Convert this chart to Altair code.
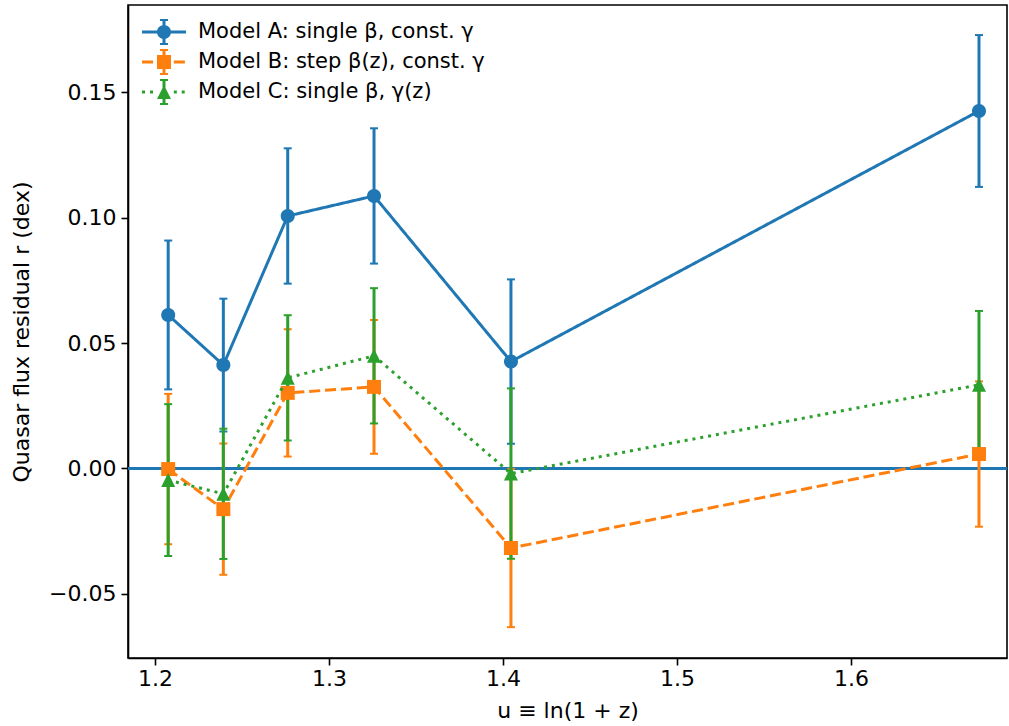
import altair as alt
import pandas as pd

# ---- data ----
u_vals = [1.2076, 1.2393, 1.2763, 1.3259, 1.4046, 1.6736]

series_names = ["Model A: single β, const. γ",
                "Model B: step β(z), const. γ",
                "Model C: single β, γ(z)"]

a_vals = [0.0612, 0.0412, 0.1007, 0.1087, 0.0426, 0.1426]
a_errs = [0.0297, 0.0265, 0.0270, 0.0270, 0.0328, 0.0303]

b_vals = [-0.0003, -0.0163, 0.0301, 0.0325, -0.0318, 0.0057]
b_errs = [0.0300, 0.0262, 0.0254, 0.0267, 0.0316, 0.0290]

c_vals = [-0.0047, -0.0102, 0.0361, 0.0449, -0.0021, 0.0333]
c_errs = [0.0303, 0.0260, 0.0250, 0.0270, 0.0340, 0.0295]

x_ticks = [1.2, 1.3, 1.4, 1.5, 1.6]
y_ticks = [-0.05, 0.0, 0.05, 0.10, 0.15]

colors = ["#1f77b4", "#ff7f0e", "#2ca02c"]

rows = []
for name, vals, errs in zip(series_names, [a_vals, b_vals, c_vals], [a_errs, b_errs, c_errs]):
    for u, v, e in zip(u_vals, vals, errs):
        rows.append({"series": name, "u": u, "r": v, "lo": v - e, "hi": v + e})
df = pd.DataFrame(rows)

# ---- marker / legend symbol paths ----
CIRCLE = "M-1,0A1,1,0,1,1,1,0A1,1,0,1,1,-1,0Z"
SQUARE = "M-1,-1H1V1H-1Z"
TRIANGLE = "M0,-1L1,1L-1,1Z"
marker_paths = [CIRCLE, SQUARE, TRIANGLE]

U = 14.0  # legend symbol unit in px (sqrt(size)/2)
LEGEND_SYMBOL_SIZE = (2 * U) ** 2


def rect(x0, x1, y0, y1):
    return "M{:.4f},{:.4f}H{:.4f}V{:.4f}H{:.4f}Z".format(x0 / U, y0 / U, x1 / U, y1 / U, x0 / U)


def legend_path(kind, line_segments):
    p = ""
    for (s0, s1) in line_segments:
        p += rect(s0, s1, -1.5, 1.5)
    p += rect(-1.5, 1.5, -12, 12)
    p += rect(-4, 4, -13, -11)
    p += rect(-4, 4, 11, 13)
    r = 7.0 / U
    if kind == "circle":
        p += "M{0:.4f},0A{1:.4f},{1:.4f},0,1,1,{1:.4f},0A{1:.4f},{1:.4f},0,1,1,{0:.4f},0Z".format(-r, r)
    elif kind == "square":
        p += rect(-7, 7, -7, 7)
    else:
        p += "M0,{:.4f}L{:.4f},{:.4f}L{:.4f},{:.4f}Z".format(-r, r, r, -r, r)
    return p


legend_paths = [
    legend_path("circle", [(-22, 22)]),
    legend_path("square", [(-22, -10.9), (9.8, 20.9)]),
    legend_path("triangle", [(-22, -19), (-14, -11), (9.8, 12.8), (17.7, 20.7)]),
]

dashes = [[1, 0], [11.1, 4.8], [3, 4.95]]

x_enc = alt.X("u:Q",
              scale=alt.Scale(domain=[1.1845, 1.6897], nice=False, zero=False),
              axis=alt.Axis(values=x_ticks, format=".1f", title="u ≡ ln(1 + z)"))
y_enc = alt.Y("r:Q",
              scale=alt.Scale(domain=[-0.0757, 0.1849], nice=False, zero=False),
              axis=alt.Axis(values=y_ticks, format=".2f", title="Quasar flux residual r (dex)"))

base = alt.Chart(df)

zero_line = base.mark_rule(color="#1f77b4", strokeWidth=2).encode(y=alt.datum(0))

bar_layers = []
for name, col in zip(series_names, colors):
    sub = base.transform_filter(alt.datum.series == name)
    bar_layers.append(sub.mark_rule(color=col, strokeWidth=3).encode(x=x_enc, y=y_enc, y2="hi:Q").transform_calculate(r="datum.lo"))
    bar_layers.append(sub.mark_tick(color=col, orient="horizontal", size=8, thickness=2, opacity=1).encode(x=x_enc, y=alt.Y("lo:Q")))
    bar_layers.append(sub.mark_tick(color=col, orient="horizontal", size=8, thickness=2, opacity=1).encode(x=x_enc, y=alt.Y("hi:Q")))

data_layers = []
for name, col, dash, mp in zip(series_names, colors, dashes, marker_paths):
    sub = base.transform_filter(alt.datum.series == name)
    data_layers.append(sub.mark_line(color=col, strokeWidth=3, strokeDash=dash).encode(x=x_enc, y=y_enc))
    data_layers.append(sub.mark_point(color=col, filled=True, opacity=1, shape=mp, size=196, strokeWidth=0).encode(x=x_enc, y=y_enc))

legend_layer = base.transform_filter("false").mark_point(filled=True, opacity=1, size=LEGEND_SYMBOL_SIZE, strokeWidth=0).encode(
    x=x_enc, y=y_enc,
    color=alt.Color("series:N", scale=alt.Scale(domain=series_names, range=colors),
                    legend=alt.Legend(title=None)),
    shape=alt.Shape("series:N", scale=alt.Scale(domain=series_names, range=legend_paths),
                    legend=alt.Legend(title=None)),
)

chart = alt.layer(zero_line, *bar_layers, *data_layers, legend_layer).properties(
    width=879, height=653,
    autosize=alt.AutoSizeParams(type="none"),
    padding={"left": 128, "top": 5, "right": 2, "bottom": 68},
    background="white",
).configure_view(
    stroke="black", strokeWidth=1.6
).configure_axis(
    grid=False, domainColor="black", domainWidth=1.6, tickColor="black", tickWidth=1.6, tickSize=7,
    labelFont="DejaVu Sans", labelFontSize=22, labelColor="black",
    titleFont="DejaVu Sans", titleFontSize=22, titleFontWeight="normal", titleColor="black",
).configure_axisY(titlePadding=15, labelPadding=5).configure_axisX(titlePadding=11, labelPadding=3).configure_legend(
    orient="none", legendX=22, legendY=13, padding=0, labelFont="DejaVu Sans", labelFontSize=21,
    labelColor="black", labelOffset=20, rowPadding=2, symbolStrokeWidth=0, symbolOpacity=1,
    symbolSize=LEGEND_SYMBOL_SIZE, labelLimit=0,
)

chart.save("out.html", embed_options={"renderer": "svg", "actions": False})
